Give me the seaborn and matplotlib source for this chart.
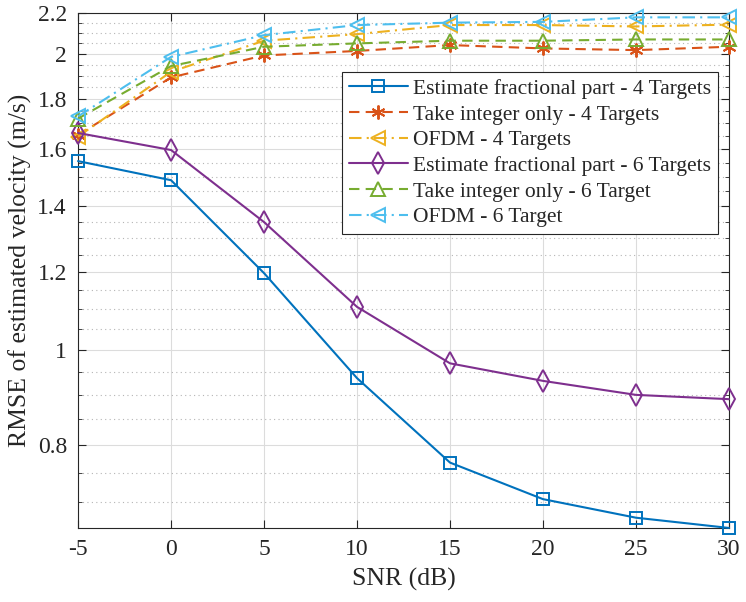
import numpy as np
import pandas as pd
import matplotlib
matplotlib.use("Agg")
import matplotlib.pyplot as plt
import seaborn as sns
from matplotlib.ticker import FixedLocator, MultipleLocator, NullFormatter

# 데이터
snr = [-5, 0, 5, 10, 15, 20, 25, 30]
est_frac_4 = [1.556, 1.488, 1.197, 0.936, 0.768, 0.705, 0.675, 0.659]
int_only_4 = [1.654, 1.893, 1.993, 2.014, 2.042, 2.026, 2.018, 2.034]
ofdm_4 = [1.648, 1.918, 2.063, 2.095, 2.140, 2.140, 2.133, 2.142]
est_frac_6 = [1.662, 1.597, 1.349, 1.106, 0.969, 0.930, 0.900, 0.891]
int_only_6 = [1.719, 1.944, 2.034, 2.050, 2.063, 2.063, 2.069, 2.069]
ofdm_6 = [1.728, 1.986, 2.090, 2.140, 2.152, 2.156, 2.179, 2.179]

labels = ["Estimate fractional part - 4 Targets",
          "Take integer only - 4 Targets",
          "OFDM - 4 Targets",
          "Estimate fractional part - 6 Targets",
          "Take integer only - 6 Target",
          "OFDM - 6 Target"]
series = [est_frac_4, int_only_4, ofdm_4, est_frac_6, int_only_6, ofdm_6]

y_ticks = [0.8, 1, 1.2, 1.4, 1.6, 1.8, 2, 2.2]
y_tick_labels = ["0.8", "1", "1.2", "1.4", "1.6", "1.8", "2", "2.2"]
x_ticks = [-5, 0, 5, 10, 15, 20, 25, 30]

# 스타일 (MATLAB 기본색)
colors = ["#0072BD", "#D95319", "#EDB120", "#7E2F8E", "#77AC30", "#4DBEEE"]
lstyles = ["-", (0, (5, 3)), (0, (6, 2.5, 1, 2.5)), "-", (0, (5, 3)), (0, (6, 2.5, 1, 2.5))]
markers = ["s", (6, 2, 0), "<", "d", "^", "<"]
msizes = [8, 10, 10, 11, 10, 10]

sns.set_style("ticks")
plt.rcParams['font.family'] = ['Liberation Serif', 'DejaVu Serif']

fig = plt.figure(figsize=(7.46, 6.02), dpi=100)
ax = fig.add_axes([0.1046, 0.123, 0.8726, 0.855])

for ys, lab, c, ls, m, ms in zip(series, labels, colors, lstyles, markers, msizes):
    df = pd.DataFrame({"snr": snr, "rmse": ys})
    sns.lineplot(data=df, x="snr", y="rmse", ax=ax, color=c, linestyle=ls,
                 marker=m, markersize=ms, markerfacecolor="none",
                 markeredgecolor=c, markeredgewidth=1.4, linewidth=1.5,
                 label=lab, sort=False, clip_on=False, zorder=3)

ax.set_yscale("log")
ax.set_xlim(-5, 30)
ax.set_ylim(0.659, 2.2)
ax.xaxis.set_major_locator(FixedLocator(x_ticks))
ax.set_xticklabels([str(v) for v in x_ticks])
ax.yaxis.set_major_locator(FixedLocator(y_ticks))
ax.set_yticklabels(y_tick_labels)
ax.yaxis.set_minor_locator(MultipleLocator(0.05))
ax.yaxis.set_minor_formatter(NullFormatter())

ax.grid(which="major", color="#dcdcdc", linestyle="-", linewidth=0.8)
ax.grid(which="minor", axis="y", color="#b5b5b5", linestyle=(0, (1, 3)), linewidth=0.8)
ax.set_axisbelow(True)

ax.tick_params(which="both", direction="in", top=True, right=True,
               labelsize=17, color="#262626")
ax.tick_params(which="major", length=6, width=0.8, pad=8)
ax.tick_params(which="minor", length=3, width=0.6)
for sp in ax.spines.values():
    sp.set_color("#262626")
    sp.set_linewidth(0.8)

ax.set_xlabel("SNR (dB)", fontsize=18.5, labelpad=6)
ax.set_ylabel("RMSE of estimated velocity (m/s)", fontsize=18.5, labelpad=4)

leg = ax.legend(loc="upper right", bbox_to_anchor=(0.983, 0.885),
                borderaxespad=0, fontsize=15.5, frameon=True, fancybox=False,
                framealpha=1, edgecolor="#262626", handlelength=2.75,
                handletextpad=0.25, labelspacing=0.26, borderpad=0.3)
leg.get_frame().set_linewidth(0.8)

fig.savefig("out.png", dpi=100)
